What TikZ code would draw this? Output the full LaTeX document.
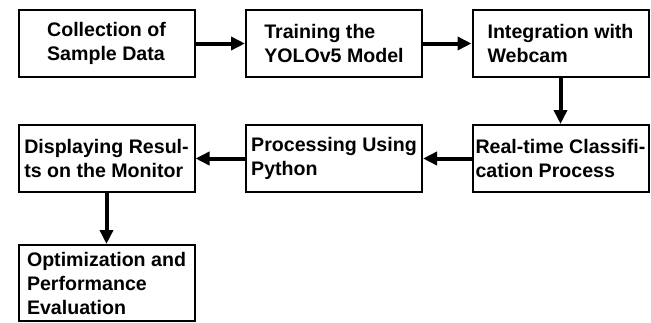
\documentclass[tikz,border=0pt]{standalone}
\usepackage{fontspec}
\setmainfont{Liberation Sans}
\usetikzlibrary{arrows.meta}

\begin{document}
\begin{tikzpicture}[x=1pt,y=-1pt,
    box/.style={draw, line width=2pt, minimum width=176pt, minimum height=67pt,
      align=left, inner sep=0pt, font=\bfseries\fontsize{19.6}{24}\selectfont},
    flow/.style={line width=4pt, -{Triangle[length=14pt,width=13pt]}}]
      \useasboundingbox (0,0) rectangle (651,322);
      \clip (0,0) rectangle (651,322);
      \node[box] (collect) at (106.5,43.5) {Collection of\\Sample Data};
      \node[box] (train) at (334,43.5) {Training the\\YOLOv5 Model};
      \node[box] (webcam) at (560.5,43.5) {Integration with\\Webcam};
      \node[box] (classify) at (560.5,158.5) {Real-time Classifi-\\cation Process};
      \node[box] (python) at (334,158.5) {Processing Using\\Python};
      \node[box] (display) at (106.5,158.5) {Displaying Resul-\\ts on the Monitor};
      \node[box, minimum height=76pt] (optim) at (106.5,283) {Optimization and\\Performance\\Evaluation};
      \draw[flow] (collect) -- (train);
      \draw[flow] (train) -- (webcam);
      \draw[flow] (webcam) -- (classify);
      \draw[flow] (classify) -- (python);
      \draw[flow] (python) -- (display);
      \draw[flow] (display) -- (optim);
    \end{tikzpicture}
\end{document}
